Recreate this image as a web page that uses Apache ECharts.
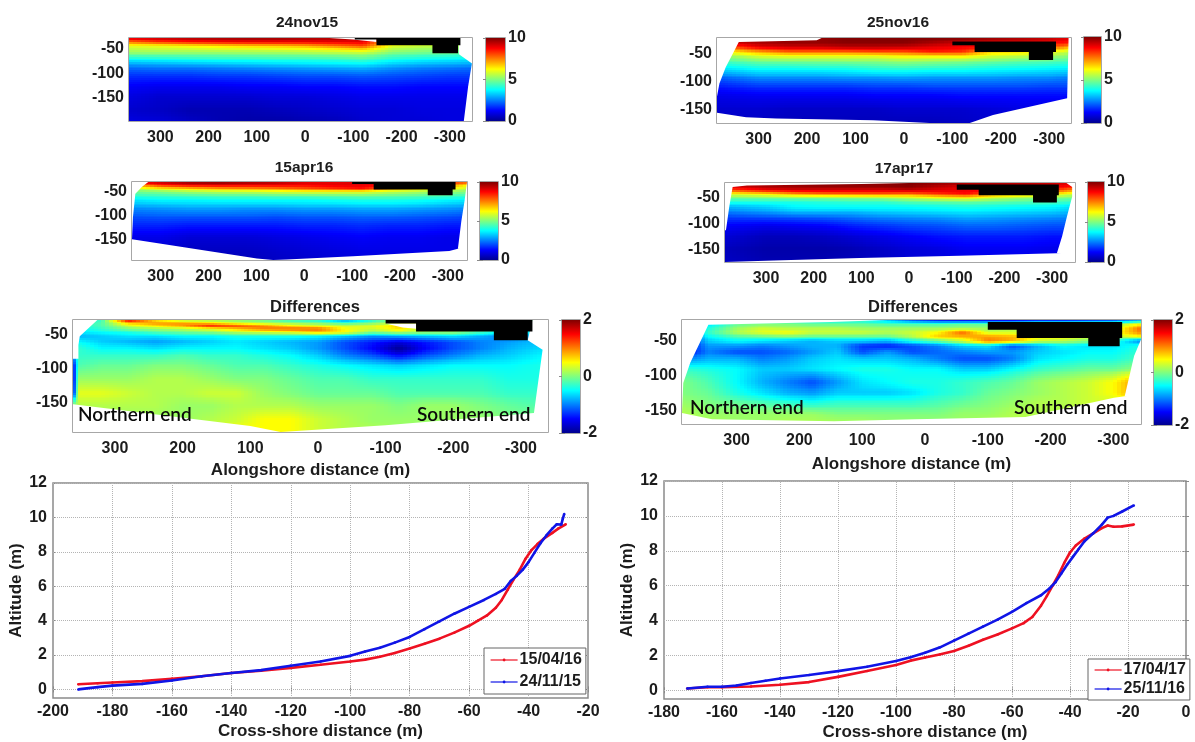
<!DOCTYPE html>
<html><head><meta charset="utf-8">
<style>html,body{margin:0;padding:0;background:#fff}#c{width:1195px;height:742px}</style>
<script src="https://cdn.jsdelivr.net/npm/echarts@6/dist/echarts.min.js"></script>
</head><body><div id="c"></div>
<script>
// ---------- values ----------
const alongTicks=[300,200,100,0,-100,-200,-300];
const depthTicks=[-50,-100,-150];

const nov15Cols=[365,300,240,180,120,60,0,-60,-120,-180,-240,-300,-346];
const nov15Rows=[-28,-36,-44,-52,-60,-70,-80,-90,-105,-125,-150,-175,-197];
const nov15Values=[
[9.2,9.4,9.6,9.7,9.8,9.8,9.7,9.6,9.5,8,7,6,5],
[7.6,8.2,8.5,8.7,8.8,8.8,8.8,8.9,8.9,6.6,6.2,5.9,5],
[6,6.1,6.3,6.5,6.7,6.8,7,7.5,8,6,5.7,5.6,5],
[5.5,5.6,5.6,5.7,5.7,5.8,5.9,6.1,6.4,5.4,5.2,5.1,4.9],
[5,5,5,5,5.1,5.1,5.2,5.3,5.4,4.8,4.7,4.6,4.5],
[3.9,4,4.1,4.2,4.2,4.3,4.3,4.4,4.6,4.1,3.9,3.8,3.7],
[2.9,3,3.1,3.2,3.3,3.4,3.5,3.6,3.7,3.3,3.1,3,2.9],
[2.3,2.4,2.4,2.5,2.6,2.7,2.8,2.9,3,2.7,2.5,2.4,2.3],
[1.7,1.7,1.7,1.8,1.8,1.9,2,2,2.1,2,1.9,1.8,1.8],
[1.2,1.1,1.1,1.1,1.2,1.2,1.3,1.3,1.4,1.4,1.3,1.3,1.3],
[.9,.7,.7,.7,.7,.8,.8,.9,1,1,1,1,1],
[.7,.6,.4,.4,.4,.5,.6,.7,.8,.8,.9,.9,.9],
[.9,.8,.6,.4,.3,.3,.4,.5,.7,.8,.8,.9,.9]];
const nov15Blank=[[[-50,-28],[-148,-28],[-148,-36],[-100,-31]],[[-319,-28],[-346,-28],[-346,-80],[-319,-61]],[[-346,-79],[-338,-126],[-329,-197],[-346,-197]]];
const nov15Black=[[[-103,-28],[-322,-28],[-322,-43],[-317,-43],[-317,-59],[-264,-59],[-264,-43],[-148,-43],[-148,-31],[-103,-31]]];

const nov16Cols=[386,300,240,180,120,60,0,-60,-120,-180,-240,-300,-345];
const nov16Rows=[-22,-30,-38,-46,-54,-62,-72,-82,-92,-105,-125,-150,-173];
const nov16Values=[
[9.5,9.5,9.7,9.8,10,10,10,10,10,9.8,9.6,9.4,9],
[9,9.6,9.8,9.8,9.9,9.9,9.9,9.6,9.2,9,9,8.8,8.5],
[7.5,8.9,9.2,9.2,9.4,9.4,9.3,9,8.8,8.6,8.4,8,7],
[6,7.2,7.8,7.8,7.8,8,8,8.5,8.3,6.8,6.6,6.2,5.6],
[5,5.8,6,6,6,6,6.3,6.3,6.4,5.8,5.6,5.4,5],
[4.5,5,5.1,5.1,5.2,5.2,5.4,5.3,5.2,5,4.8,4.7,4.5],
[3.8,4.2,4.2,4.3,4.3,4.5,4.6,4.5,4.4,4.2,4.1,4,3.9],
[3,3.4,3.4,3.4,3.5,3.7,3.7,3.6,3.6,3.5,3.4,3.3,3.2],
[2.2,2.7,2.7,2.7,2.8,2.8,2.9,2.8,2.8,2.8,2.7,2.7,2.5],
[1.6,1.9,1.9,1.9,1.9,2,2,2.1,2.1,2.1,2.1,2,2],
[1,1.1,1.1,1.1,1.1,1.2,1.2,1.2,1.3,1.3,1.3,1.3,1.3],
[.7,.7,.6,.6,.6,.6,.7,.7,.7,.8,.9,.9,.9],
[.6,.6,.5,.5,.5,.5,.5,.5,.6,.7,.8,.8,.8]];
const nov16Blank=[[[386,-22],[170,-22],[180,-26],[341,-29],[350,-44],[368,-74],[381,-103],[386,-126]],[[386,-155],[326,-163],[264,-165],[64,-168],[-53,-173],[-136,-173],[-184,-159],[-337,-129],[-345,-127],[-345,-173],[386,-173]],[[-340,-22],[-345,-22],[-345,-132],[-337,-130]]];
const nov16Black=[[[-100,-28],[-314,-28],[-314,-47],[-308,-47],[-308,-61],[-258,-61],[-258,-47],[-146,-47],[-146,-35],[-100,-35]]];

const apr16Cols=[360,300,240,180,120,60,0,-60,-120,-180,-240,-300,-340];
const apr16Rows=[-29,-36,-43,-50,-58,-68,-78,-88,-100,-120,-145,-170,-194];
const apr16Values=[
[9,9.4,9.8,9.9,9.7,9.5,9.1,9,9.2,9.2,9,8.5,8],
[7,8.4,8.9,9,8.9,8.9,8.8,9,9,8.8,8.4,7.5,6.5],
[5.5,6.2,6.6,7,7.2,7.4,7.8,8.2,8.6,7.2,6.6,6.2,5.6],
[4.8,5,5.3,5.5,5.6,5.8,6,6,6,5.6,5.4,5.2,5],
[4.2,4.3,4.4,4.5,4.5,4.6,4.6,4.7,4.8,4.7,4.6,4.4,4.3],
[3.5,3.7,3.7,3.8,3.8,3.8,3.8,3.9,4,4,3.9,3.7,3.6],
[3,3.1,3.2,3.2,3.2,3.2,3.3,3.3,3.4,3.4,3.3,3.1,3],
[2.5,2.6,2.7,2.7,2.6,2.6,2.7,2.7,2.8,2.8,2.7,2.6,2.5],
[2.1,2.2,2.2,2.2,2.2,2.1,2.2,2.2,2.3,2.3,2.2,2.1,2],
[1.6,1.6,1.5,1.5,1.5,1.5,1.6,1.6,1.7,1.6,1.6,1.5,1.5],
[1,1,.8,.8,.8,.9,1,1.1,1.2,1.1,1.1,1,1],
[.8,.8,.6,.6,.6,.7,.8,.9,1,1,1,1,1],
[.8,.7,.6,.5,.5,.6,.7,.8,.9,.9,.9,.9,.9]];
const apr16Blank=[[[360,-29],[326,-29],[339,-39],[353,-54],[358,-103],[360,-150]],[[360,-150],[99,-191],[65,-194],[37,-193],[-102,-186],[-303,-175],[-321,-170],[-340,-167],[-340,-194],[360,-194]],[[-340,-29],[-335,-68],[-328,-113],[-321,-170],[-340,-173]]];
const apr16Black=[[[-100,-29],[-316,-29],[-316,-45],[-310,-45],[-310,-57],[-258,-57],[-258,-45],[-145,-45],[-145,-33],[-100,-33]]];

const apr17Cols=[386,300,240,180,120,60,0,-60,-120,-180,-240,-300,-348];
const apr17Rows=[-21,-28,-35,-42,-50,-58,-68,-78,-90,-105,-125,-150,-175];
const apr17Values=[
[9.5,9.6,9.8,9.9,9.9,9.9,10,9.8,9.6,9.6,9.5,9.3,9],
[9,9.6,9.7,9.8,9.8,9.8,9.9,9.4,9,9,9,9,8.5],
[8,8.9,9.2,9.2,9.2,9.2,9.4,9.1,8.9,8.9,8.8,8.4,7.4],
[6,6.5,7.2,7.6,7.7,7.8,7.6,8.2,8.7,7.4,7,6.4,5.8],
[4.8,4.9,5,5,5.1,5.2,5.6,6,6.2,5.6,5.2,5,4.8],
[4,4,4,4.1,4.2,4.2,4.5,4.6,4.7,4.6,4.5,4.4,4.2],
[3,3.3,3.7,3.8,3.8,3.8,3.8,3.9,4,3.9,3.8,3.7,3.4],
[2.4,2.7,3,3,3,3.2,3.3,3.4,3.5,3.4,3.3,3.2,3],
[1.8,1.9,2,2.1,2.3,2.5,2.6,2.7,2.9,2.8,2.7,2.6,2.5],
[1.2,1,1.1,1.2,1.5,1.7,1.9,2,2.2,2.2,2.1,2,2],
[.8,.5,.5,.6,.8,1,1.2,1.4,1.5,1.5,1.5,1.4,1.4],
[.5,.3,.3,.3,.4,.6,.8,.9,1.1,1.1,1.1,1,1],
[.6,.4,.4,.4,.5,.6,.8,.9,1,1,1,1,1]];
const apr17Blank=[[[386,-21],[0,-21],[100,-23],[340,-26],[370,-29],[377,-67],[384,-113],[386,-113]],[[386,-175],[283,-172],[103,-167],[-106,-163],[-310,-158],[-348,-156],[-348,-175]],[[-348,-21],[-330,-21],[-342,-29],[-342,-48],[-331,-87],[-321,-125],[-310,-158],[-348,-161]]];
const apr17Black=[[[-100,-24],[-314,-24],[-314,-45],[-310,-45],[-310,-59],[-260,-59],[-260,-45],[-146,-45],[-146,-34],[-100,-34]]];

const diffLeftCols=[362,354,320,280,240,200,160,120,80,40,0,-40,-80,-120,-160,-200,-240,-280,-340];
const diffLeftRows=[-28,-33,-37,-41,-46,-52,-60,-70,-80,-95,-115,-135,-155,-175,-193];
const diffLeftValues=[
[-.3,-.3,-.3,1.6,.6,.2,.1,0,-.1,-.3,-.4,-.9,-.4,.2,.2,.2,.2,.2,-.3],
[-.3,-.3,-.2,.7,.9,.9,.7,.4,.2,.1,0,-.2,0,.3,.4,.3,.2,.1,-.3],
[-.4,-.4,-.2,.3,.6,.9,1.5,1.3,1,.6,.4,.3,.4,.7,.3,.2,.1,0,-.4],
[-.5,-.5,-.3,0,.1,.2,.4,.7,1,1.1,1.1,.5,.3,.6,.2,.1,0,-.1,-.5],
[-.6,-.6,-.5,-.4,-.2,-.1,0,.2,.3,.4,.7,.5,0,.2,.1,.1,-.2,-.6,-.5],
[-.8,-.8,-.7,-.6,-.6,-.5,-.5,-.4,-.4,-.4,-.5,-.7,-.9,-.8,-.7,-.6,-.8,-1,-.7],
[-.5,-.5,-.7,-.8,-.9,-.8,-.7,-.6,-.7,-.8,-.9,-1.2,-1.4,-1.6,-1.4,-1.2,-1,-.9,-.7],
[-.3,-.3,-.5,-.5,-.6,-.5,-.5,-.5,-.6,-.7,-.9,-1.2,-1.5,-2,-1.5,-1.2,-1,-.8,-.6],
[-.9,-.3,-.3,-.3,-.3,-.2,-.3,-.3,-.4,-.5,-.7,-1,-1.2,-1.5,-1.2,-1,-.8,-.7,-.5],
[-1.6,-.2,-.1,-.1,0,0,-.1,-.2,-.2,-.3,-.4,-.5,-.6,-.7,-.6,-.5,-.5,-.5,-.4],
[-1.7,.1,.1,.1,.2,.2,.1,0,0,-.1,-.2,-.2,-.3,-.3,-.3,-.3,-.3,-.4,-.4],
[-1.6,.4,.4,.3,.2,.2,.3,.3,.1,0,-.1,-.1,-.1,-.2,-.2,-.2,-.2,-.3,-.3],
[.2,.2,.2,.2,.2,.1,.1,.2,.2,.2,.1,.1,.1,0,.1,.1,0,-.1,-.2],
[.1,.1,.1,.1,.1,.1,.2,.3,.5,.5,.3,.2,.1,.1,.1,.1,.1,0,0],
[.1,.1,.1,.1,.2,.3,.4,.5,.5,.5,.3,.2,.2,.1,.1,.1,.1,0,0]];
const diffLeftBlank=[[[362,-28],[326,-28],[352,-52],[354,-65],[354,-85],[362,-85]],[[362,-152],[100,-184],[55,-193],[-100,-183],[-319,-165],[-340,-163],[-340,-193],[362,-193]],[[-317,-28],[-340,-28],[-340,-168],[-319,-167],[-324,-130],[-332,-72],[-310,-58]],[[-100,-33],[-145,-33],[-145,-41],[-125,-39]]];
const diffLeftBlack=[[[-100,-28],[-317,-28],[-317,-45],[-310,-45],[-310,-58],[-260,-58],[-260,-45],[-145,-45],[-145,-33],[-100,-33]]];

const diffRightCols=[387,345,300,260,220,180,140,100,60,20,-20,-60,-100,-140,-180,-220,-260,-300,-344];
const diffRightRows=[-20,-26,-32,-38,-44,-50,-58,-66,-76,-90,-110,-125,-140,-155,-170];
const diffRightValues=[
[-.5,-.5,-.5,-.5,-.5,-.5,-.5,-.5,-.8,-1.3,-1.6,-1.7,-1.7,-1.7,-1.6,-1.6,-1.5,-1.4,-1],
[-.6,-.6,-.1,0,0,-.1,-.1,-.1,-.2,-.2,-.2,-.1,-.1,-.1,.1,.1,.1,.1,.5],
[-.8,-.4,.1,.3,.2,.2,.2,.1,.1,.1,.1,.1,.1,.2,.2,.2,.2,.2,1.1],
[-1,-.3,.2,.4,.5,.3,.3,.3,.2,.3,.5,1.1,.3,.3,.3,.3,.3,.4,1],
[-1.4,-.5,-.2,-.1,0,-.1,-.1,-.1,-.1,.2,.7,.8,.9,.8,.6,.6,.4,.2,.5],
[-1.6,-.7,-.5,-.6,-.7,-.8,-.7,-.7,-.8,-.4,-.1,.3,1,.8,.3,.2,0,-.3,-1],
[-1.6,-.9,-.9,-1,-.9,-.8,-.8,-1.3,-1.4,-1.2,-1,-.7,-.6,-1.2,-.8,-.5,-.6,-.6,-.4],
[-1.6,-1,-1.2,-1.2,-1.1,-.9,-.7,-1.2,-.9,-1.2,-1.1,-1,-.9,-.9,-.7,-.6,-.5,-.5,-.3],
[-1,-.8,-.8,-1,-.9,-.7,-.6,-.7,-.7,-.8,-1,-1.2,-1.2,-1,-.6,-.5,-.4,-.4,-.2],
[-.3,-.4,-.5,-.7,-.7,-.6,-.5,-.4,-.4,-.5,-.5,-.7,-.7,-.5,-.3,-.2,-.1,-.1,.1],
[0,-.2,-.5,-.8,-1,-1.2,-.9,-.6,-.5,-.4,-.4,-.3,-.2,-.1,.1,.2,.3,.5,1],
[0,-.1,-.4,-.6,-.8,-.9,-.7,-.7,-.7,-.6,-.4,-.3,-.1,0,.1,.2,.3,.5,1],
[.1,0,-.1,-.2,-.3,-.4,-.3,-.3,-.3,-.3,-.2,-.1,0,.1,.2,.2,.3,.3,.3],
[.2,.1,.1,.1,.1,.1,0,0,0,0,0,.1,.1,.2,.2,.2,.2,.2,.2],
[.2,.2,.1,.1,.2,.2,.2,.2,.1,.1,.1,.1,.2,.2,.2,.2,.2,.2,.2]];
const diffRightBlank=[[[387,-20],[60,-20],[150,-23],[345,-27],[374,-82],[385,-111],[387,-154]],[[387,-154],[339,-163],[145,-166],[16,-163],[-160,-160],[-301,-132],[-318,-130],[-344,-128],[-344,-170],[387,-170]],[[-344,-48],[-333,-72],[-318,-130],[-344,-133]]];
const diffRightBlack=[[[-100,-23],[-314,-23],[-314,-46],[-310,-46],[-310,-58],[-260,-58],[-260,-46],[-146,-46],[-146,-34],[-100,-34]]];

const profileARed=[[-191.5,.3],[-185,.36],[-180,.4],[-170,.48],[-160,.62],[-150,.76],[-140,.95],[-130,1.08],[-120,1.25],[-110,1.43],[-100,1.62],[-95,1.73],[-90,1.9],[-85,2.12],[-80,2.38],[-75,2.65],[-70,2.95],[-65,3.3],[-60,3.7],[-57,4],[-54,4.3],[-51,4.75],[-49,5.2],[-47,5.8],[-45,6.4],[-43,6.95],[-41,7.6],[-39,8.1],[-37,8.45],[-35,8.75],[-32,9.1],[-30,9.35],[-27.5,9.6]];
const profileABlue=[[-191.5,0],[-185,.13],[-180,.22],[-170,.32],[-160,.52],[-150,.76],[-140,.95],[-130,1.12],[-120,1.38],[-110,1.62],[-100,1.95],[-95,2.2],[-90,2.42],[-85,2.72],[-80,3.05],[-75,3.5],[-70,3.95],[-65,4.4],[-60,4.8],[-55,5.2],[-51,5.55],[-48,5.85],[-46,6.3],[-44,6.6],[-42,6.95],[-40,7.4],[-38,7.95],[-36,8.5],[-34,8.95],[-32,9.35],[-30.5,9.6],[-29,9.58],[-28.5,9.9],[-28,10.2]];
const profileBRed=[[-172,.1],[-165,.17],[-160,.18],[-150,.22],[-140,.32],[-130,.47],[-120,.77],[-110,1.1],[-100,1.45],[-95,1.7],[-90,1.88],[-85,2.05],[-80,2.25],[-75,2.55],[-70,2.9],[-65,3.2],[-60,3.55],[-56,3.85],[-53,4.2],[-50,4.85],[-48,5.4],[-46,6],[-44,6.6],[-42,7.3],[-40,7.9],[-38,8.3],[-35,8.7],[-32,9],[-29,9.3],[-27,9.45],[-25,9.38],[-22,9.4],[-18,9.5]];
const profileBBlue=[[-172,.1],[-165,.2],[-160,.2],[-155,.27],[-150,.42],[-145,.55],[-140,.68],[-130,.88],[-120,1.1],[-110,1.35],[-100,1.68],[-95,1.9],[-90,2.15],[-85,2.45],[-80,2.85],[-75,3.25],[-70,3.65],[-65,4.05],[-60,4.5],[-55,5],[-50,5.45],[-47,5.85],[-45,6.2],[-43,6.7],[-41,7.2],[-39,7.65],[-37,8.1],[-35,8.55],[-32,9],[-29,9.5],[-27,9.9],[-25,10],[-22,10.25],[-18,10.6]];
const altitudeTicks=[0,2,4,6,8,10,12];
const crossTicksA=[-200,-180,-160,-140,-120,-100,-80,-60,-40,-20];
const crossTicksB=[-180,-160,-140,-120,-100,-80,-60,-40,-20,0];

// ---------- drawing ----------
const FONT='"Liberation Sans",Arial,sans-serif', INK='#1c1c1c', BOX='#8a8a8a';
const jetStops=[[0,[0,0,143]],[.125,[0,0,255]],[.375,[0,255,255]],[.625,[255,255,0]],[.875,[255,0,0]],[1,[128,0,0]]];
function jet(t){t=Math.max(0,Math.min(1,t));
  for(let k=1;k<jetStops.length;k++){const a=jetStops[k-1],b=jetStops[k];
    if(t<=b[0]){const f=(t-a[0])/(b[0]-a[0]);
      return 'rgb('+a[1].map((c,n)=>Math.round(c+(b[1][n]-c)*f)).join(',')+')';}}
  return 'rgb(128,0,0)';}
const opt={animation:false,backgroundColor:'#fff',title:[],grid:[],xAxis:[],yAxis:[],series:[],legend:[],graphic:[]};
const tickFont={color:INK,fontFamily:FONT,fontWeight:'bold',fontSize:16};
const nameFont={color:INK,fontFamily:FONT,fontWeight:'bold',fontSize:17};

function addAxes(g,xa,ya){
  const gi=opt.grid.length;
  opt.grid.push(Object.assign({show:true,borderColor:BOX,borderWidth:1.5,backgroundColor:'#fff'},g));
  const xi=opt.xAxis.length, yi=opt.yAxis.length;
  const base=()=>({gridIndex:gi,type:'value',axisLine:{show:false},splitLine:{show:false}});
  const noLabel={name:'',axisLabel:{show:false},splitLine:{show:false}};
  opt.xAxis.push(Object.assign(base(),xa,{position:'bottom'}),Object.assign(base(),xa,{position:'top'},noLabel));
  opt.yAxis.push(Object.assign(base(),ya,{position:'left'}),Object.assign(base(),ya,{position:'right'},noLabel));
  return {xi,yi};
}
function tickAxis(min,max,vals,margin,extra){return Object.assign({min,max,
  axisTick:{show:true,inside:true,length:3,customValues:vals,lineStyle:{color:BOX}},
  axisLabel:Object.assign({show:true,customValues:vals,margin},tickFont)},extra||{});}
function addTitle(text,cx,cy,size){opt.title.push({text,left:cx,top:cy,textAlign:'center',textVerticalAlign:'middle',
  textStyle:{color:INK,fontFamily:FONT,fontWeight:'bold',fontSize:size}});}

function fieldPanel(p){
  const cols=p.cols,rows=p.rows,vals=p.values;
  const xa=tickAxis(cols[cols.length-1],cols[0],alongTicks,9,{inverse:true});
  if(p.name)Object.assign(xa,{name:p.name,nameLocation:'middle',nameGap:p.nameGap,nameTextStyle:nameFont});
  const ya=tickAxis(rows[rows.length-1],rows[0],depthTicks,5);
  const {xi,yi}=addAxes(p.rect,xa,ya);
  const cells=[];
  for(let j=0;j<rows.length-1;j++)for(let i=0;i<cols.length-1;i++)cells.push([cols[i],rows[j],vals[j][i],i,j]);
  opt.series.push({type:'custom',coordinateSystem:'cartesian2d',xAxisIndex:xi,yAxisIndex:yi,silent:true,clip:true,z:1,
    progressive:0,encode:{x:0,y:1},data:cells,
    renderItem(params,api){
      const i=api.value(3),j=api.value(4);
      const a=api.coord([cols[i],rows[j]]), b=api.coord([cols[i+1],rows[j+1]]);
      const nx=Math.max(1,Math.ceil(Math.abs(b[0]-a[0])/4)), ny=Math.max(1,Math.ceil(Math.abs(b[1]-a[1])/2));
      const kids=[];
      for(let m=0;m<nx;m++)for(let n=0;n<ny;n++){
        const fx=(m+.5)/nx, fy=(n+.5)/ny;
        const v=(vals[j][i]*(1-fx)+vals[j][i+1]*fx)*(1-fy)+(vals[j+1][i]*(1-fx)+vals[j+1][i+1]*fx)*fy;
        const x0=Math.round(a[0]+(b[0]-a[0])*m/nx), x1=Math.round(a[0]+(b[0]-a[0])*(m+1)/nx);
        const y0=Math.round(a[1]+(b[1]-a[1])*n/ny), y1=Math.round(a[1]+(b[1]-a[1])*(n+1)/ny);
        kids.push({type:'rect',shape:{x:x0,y:y0,width:x1-x0,height:y1-y0},
          style:{fill:jet((v-p.vMin)/(p.vMax-p.vMin))}});
      }
      return {type:'group',children:kids};
    }});
  const polySeries=(polys,color,z)=>opt.series.push({type:'custom',coordinateSystem:'cartesian2d',xAxisIndex:xi,yAxisIndex:yi,
    silent:true,clip:true,z,progressive:0,encode:{x:0,y:1},data:polys.map((q,k)=>[q[0][0],q[0][1],k]),
    renderItem(params,api){const q=polys[api.value(2)];
      return {type:'polygon',shape:{points:q.map(c=>api.coord(c))},style:{fill:color}};}});
  polySeries(p.blank,'#fff',2);
  polySeries(p.black,'#000',3);
  const cb=addAxes(p.bar,{min:0,max:1,axisTick:{show:false},axisLabel:{show:false}},
    tickAxis(p.vMin,p.vMax,p.barTicks,3));
  opt.yAxis[cb.yi].position='right'; opt.yAxis[cb.yi+1].position='left';
  opt.series.push({type:'custom',coordinateSystem:'cartesian2d',xAxisIndex:cb.xi,yAxisIndex:cb.yi,silent:true,z:1,
    data:[[0,p.vMin,1,p.vMax]],encode:{x:[0,2],y:[1,3]},
    renderItem(params,api){
      const a=api.coord([0,p.vMax]),b=api.coord([1,p.vMin]);
      return {type:'rect',shape:{x:a[0],y:a[1],width:b[0]-a[0],height:b[1]-a[1]},
        style:{fill:new echarts.graphic.LinearGradient(0,1,0,0,jetStops.map(s=>({offset:s[0],color:'rgb('+s[1].join(',')+')'})))}};
    }});
  addTitle(p.title,p.tx,p.ty,p.name?16.5:15.5);
}
function profile(p){
  const xa=tickAxis(p.xMin,p.xMax,p.xTicks,6,{name:'Cross-shore distance (m)',nameLocation:'middle',nameGap:25,nameTextStyle:nameFont});
  const ya=tickAxis(-.5,12,altitudeTicks,6,{name:'Altitude (m)',nameLocation:'middle',nameGap:p.yGap,nameTextStyle:nameFont});
  const {xi,yi}=addAxes(p.rect,xa,ya);
  const dot={color:'#b4b4b4',type:'dotted',width:1};
  const guides=p.xTicks.slice(1,-1).map(v=>({xAxis:v})).concat(altitudeTicks.map(v=>({yAxis:v})));
  const mk=(name,data,color,z)=>({type:'line',name,data,xAxisIndex:xi,yAxisIndex:yi,z,symbol:'circle',symbolSize:2.5,showSymbol:true,
    smooth:false,itemStyle:{color},lineStyle:{color,width:2.6},silent:true});
  const s1=mk(p.names[0],p.red,'#ee1122',3), s2=mk(p.names[1],p.blue,'#1015e6',4);
  s1.markLine={silent:true,symbol:'none',label:{show:false},lineStyle:dot,data:guides,z:1,animation:false};
  opt.series.push(s1,s2);
  opt.legend.push({data:p.names,orient:'vertical',left:p.lg[0],top:p.lg[1],
    padding:p.lg[2],itemGap:p.lg[3],itemWidth:27,itemHeight:3.5,borderColor:'#666',borderWidth:1,backgroundColor:'#fff',z:10,
    selectedMode:false,lineStyle:{width:1.2},
    textStyle:{color:INK,fontFamily:FONT,fontWeight:'bold',fontSize:16,padding:[0,0,0,-3]}});
}

const topTicks=[0,5,10], diffTicks=[-2,0,2];
[
 {cols:nov15Cols,rows:nov15Rows,values:nov15Values,blank:nov15Blank,black:nov15Black,vMin:0,vMax:10,barTicks:topTicks,
  rect:{left:129,top:38,width:343,height:83},bar:{left:486,top:38,width:19,height:83},title:'24nov15',tx:302,ty:18},
 {cols:nov16Cols,rows:nov16Rows,values:nov16Values,blank:nov16Blank,black:nov16Black,vMin:0,vMax:10,barTicks:topTicks,
  rect:{left:717,top:38,width:354,height:85},bar:{left:1084,top:37,width:17,height:86},title:'25nov16',tx:893,ty:18},
 {cols:apr16Cols,rows:apr16Rows,values:apr16Values,blank:apr16Blank,black:apr16Black,vMin:0,vMax:10,barTicks:topTicks,
  rect:{left:132,top:182,width:335,height:78},bar:{left:480,top:182,width:18,height:78},title:'15apr16',tx:299,ty:163},
 {cols:apr17Cols,rows:apr17Rows,values:apr17Values,blank:apr17Blank,black:apr17Black,vMin:0,vMax:10,barTicks:topTicks,
  rect:{left:725,top:183,width:350,height:79},bar:{left:1088,top:182,width:16,height:80},title:'17apr17',tx:899,ty:164},
 {cols:diffLeftCols,rows:diffLeftRows,values:diffLeftValues,blank:diffLeftBlank,black:diffLeftBlack,vMin:-2,vMax:2,barTicks:diffTicks,
  rect:{left:73,top:320,width:475,height:112},bar:{left:562,top:320,width:18,height:113},title:'Differences',tx:310,ty:302,
  name:'Alongshore distance (m)',nameGap:30},
 {cols:diffRightCols,rows:diffRightRows,values:diffRightValues,blank:diffRightBlank,black:diffRightBlack,vMin:-2,vMax:2,barTicks:diffTicks,
  rect:{left:682,top:320,width:459,height:104},bar:{left:1154,top:320,width:18,height:105},title:'Differences',tx:908,ty:302,
  name:'Alongshore distance (m)',nameGap:32}
].forEach(fieldPanel);

profile({rect:{left:53,top:483,width:535,height:215},xMin:-200,xMax:-20,xTicks:crossTicksA,yGap:27,
  names:['15/04/16','24/11/15'],red:profileARed,blue:profileABlue,lg:[484,648,[4,4,4,6],6]});
profile({rect:{left:664,top:481,width:522,height:222},xMin:-180,xMax:0,xTicks:crossTicksB,yGap:27,
  names:['17/04/17','25/11/16'],red:profileBRed,blue:profileBBlue,lg:[1088,659,[3,4,3,6],3]});

const endFont='600 19px Lato,"Open Sans",sans-serif';
[['Northern end',78,416],['Southern end',417,416],['Northern end',690,409],['Southern end',1014,409]].forEach(t=>{
  opt.graphic.push({type:'text',left:t[1],top:t[2]-11,z:50,silent:true,style:{text:t[0],font:endFont,fill:'#0a0a0a'}});
});

const chart=echarts.init(document.getElementById('c'),null,{renderer:'canvas',width:1195,height:742});
chart.setOption(opt);
</script></body></html>
